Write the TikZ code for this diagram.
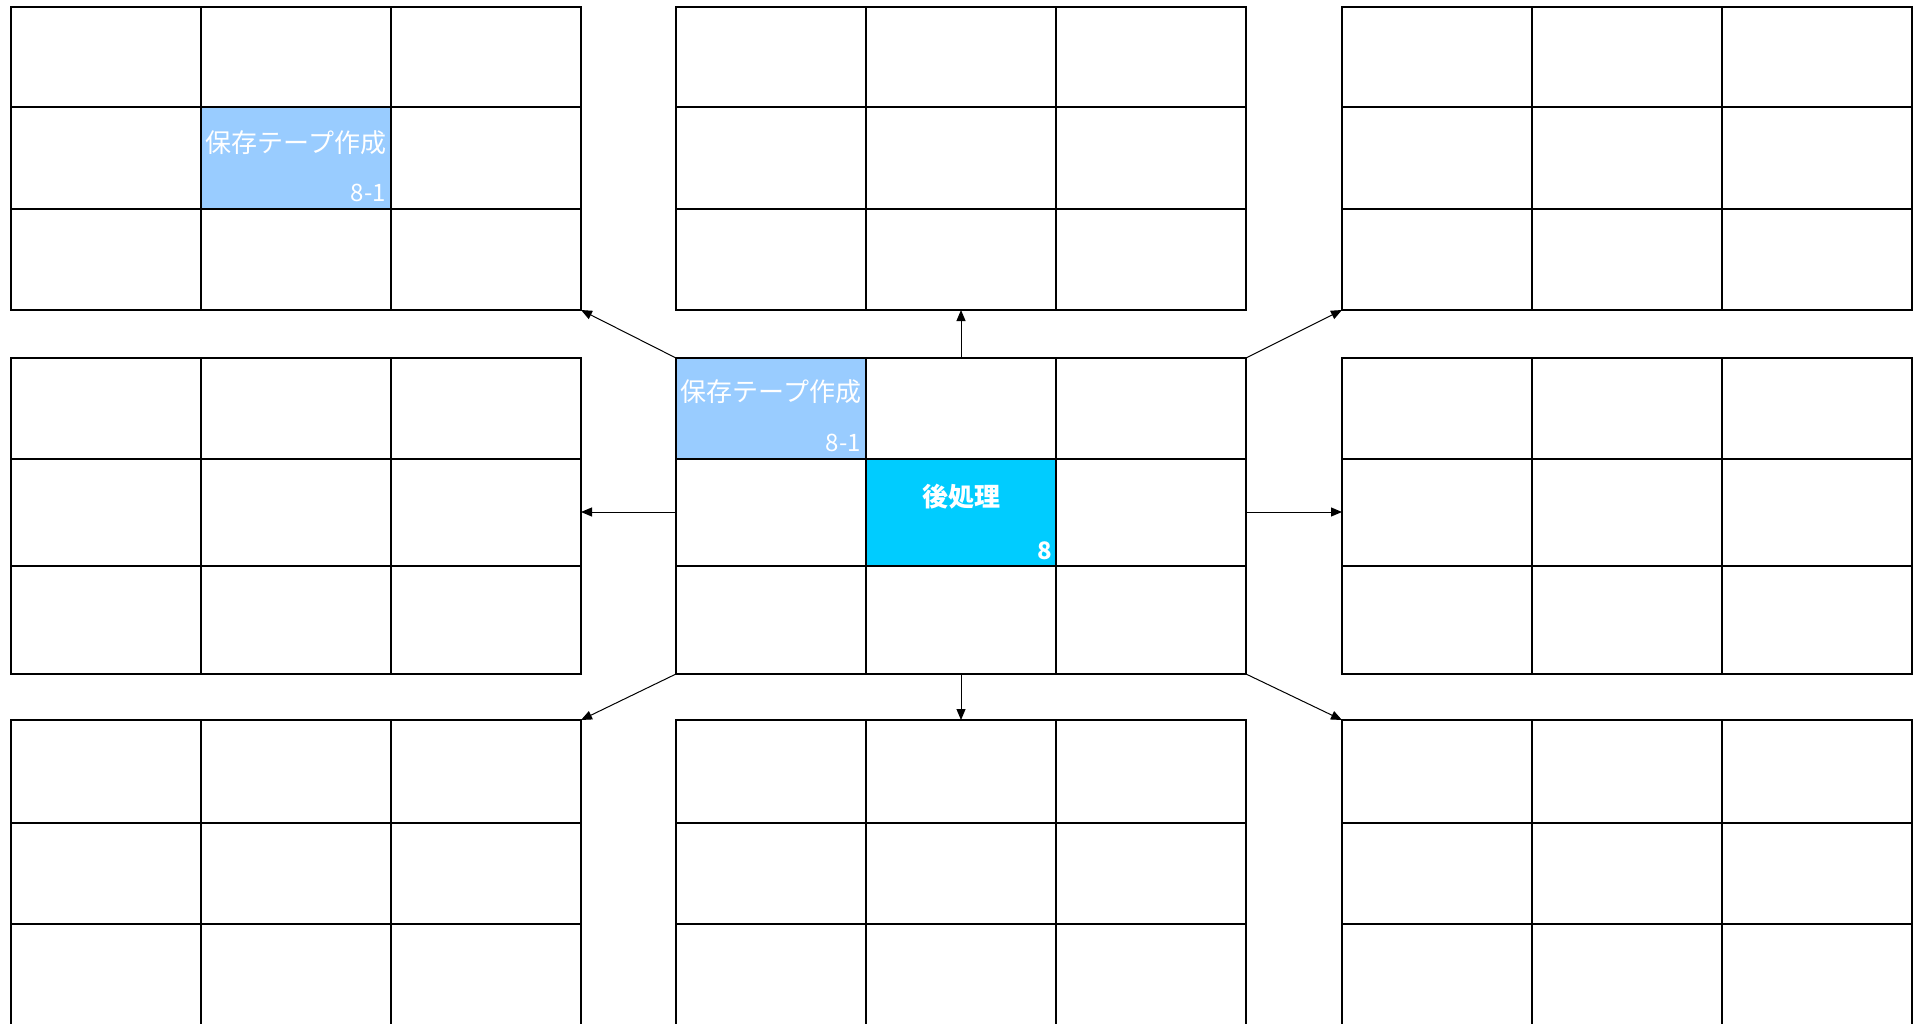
\documentclass[tikz,border=0pt]{standalone}
\usepackage{fontspec}
\newfontfamily\jp{Noto Sans CJK JP}
\usetikzlibrary{arrows.meta}
\definecolor{paleblue}{HTML}{99CCFF}
\definecolor{skyblue}{HTML}{00CCFF}
\newcommand\drawgrid[6]{%
  % #1 name, #2 left x, #3..#6 row lines y
  \coordinate (#1-nw) at (#2,#3);
  \coordinate (#1-ne) at (#2+570,#3);
  \coordinate (#1-sw) at (#2,#6);
  \coordinate (#1-se) at (#2+570,#6);
  \coordinate (#1-n) at (#2+285,#3);
  \coordinate (#1-s) at (#2+285,#6);
  \coordinate (#1-w) at (#2,512);
  \coordinate (#1-e) at (#2+570,512);
  \draw[gridline] (#2,#3) rectangle (#2+570,#6);
  \draw[gridline] (#2+190,#3) -- (#2+190,#6);
  \draw[gridline] (#2+380,#3) -- (#2+380,#6);
  \draw[gridline] (#2,#4) -- (#2+570,#4);
  \draw[gridline] (#2,#5) -- (#2+570,#5);
}
\begin{document}
\begin{tikzpicture}[x=1pt,y=-1pt,
  gridline/.style={line width=2pt,line join=miter},
  conn/.style={line width=1pt,-{Triangle[length=11pt,width=9pt]}},
  celltext/.style={text=white,inner sep=0pt,font=\jp\fontsize{26}{30}\selectfont},
  cellnum/.style={text=white,inner sep=0pt,anchor=base east,font=\jp\fontsize{24}{28}\selectfont}]
\useasboundingbox (0,0) rectangle (1914,1023);
\clip (0,0) rectangle (1914,1023);
\fill[white] (0,0) rectangle (1914,1023);
% fills
\fill[paleblue] (201,107) rectangle (391,209);
\fill[paleblue] (676,358) rectangle (866,459);
\fill[skyblue] (866,459) rectangle (1056,566);
% grids
\drawgrid{TL}{11}{7}{107}{209}{310}
\drawgrid{TC}{676}{7}{107}{209}{310}
\drawgrid{TR}{1342}{7}{107}{209}{310}
\drawgrid{ML}{11}{358}{459}{566}{674}
\drawgrid{MC}{676}{358}{459}{566}{674}
\drawgrid{MR}{1342}{358}{459}{566}{674}
\drawgrid{BL}{11}{720}{823}{924}{1026}
\drawgrid{BC}{676}{720}{823}{924}{1026}
\drawgrid{BR}{1342}{720}{823}{924}{1026}
% texts
\node[celltext] (t1) at (296,143) {保存テープ作成};
\node[cellnum] (n1) at (386,201) {8-1};
\node[celltext] (t2) at (771,392) {保存テープ作成};
\node[cellnum] (n2) at (861,451) {8-1};
\node[celltext,font=\jp\bfseries\fontsize{26}{30}\selectfont] (t3) at (961,497) {後処理};
\node[cellnum,font=\jp\bfseries\fontsize{24}{28}\selectfont] (n3) at (1052,559) {8};
% connectors
\draw[conn] (MC-nw) -- (TL-se);
\draw[conn] (MC-n) -- (TC-s);
\draw[conn] (MC-ne) -- (TR-sw);
\draw[conn] (MC-w) -- (ML-e);
\draw[conn] (MC-e) -- (MR-w);
\draw[conn] (MC-sw) -- (BL-ne);
\draw[conn] (MC-s) -- (BC-n);
\draw[conn] (MC-se) -- (BR-nw);
\end{tikzpicture}
\end{document}
